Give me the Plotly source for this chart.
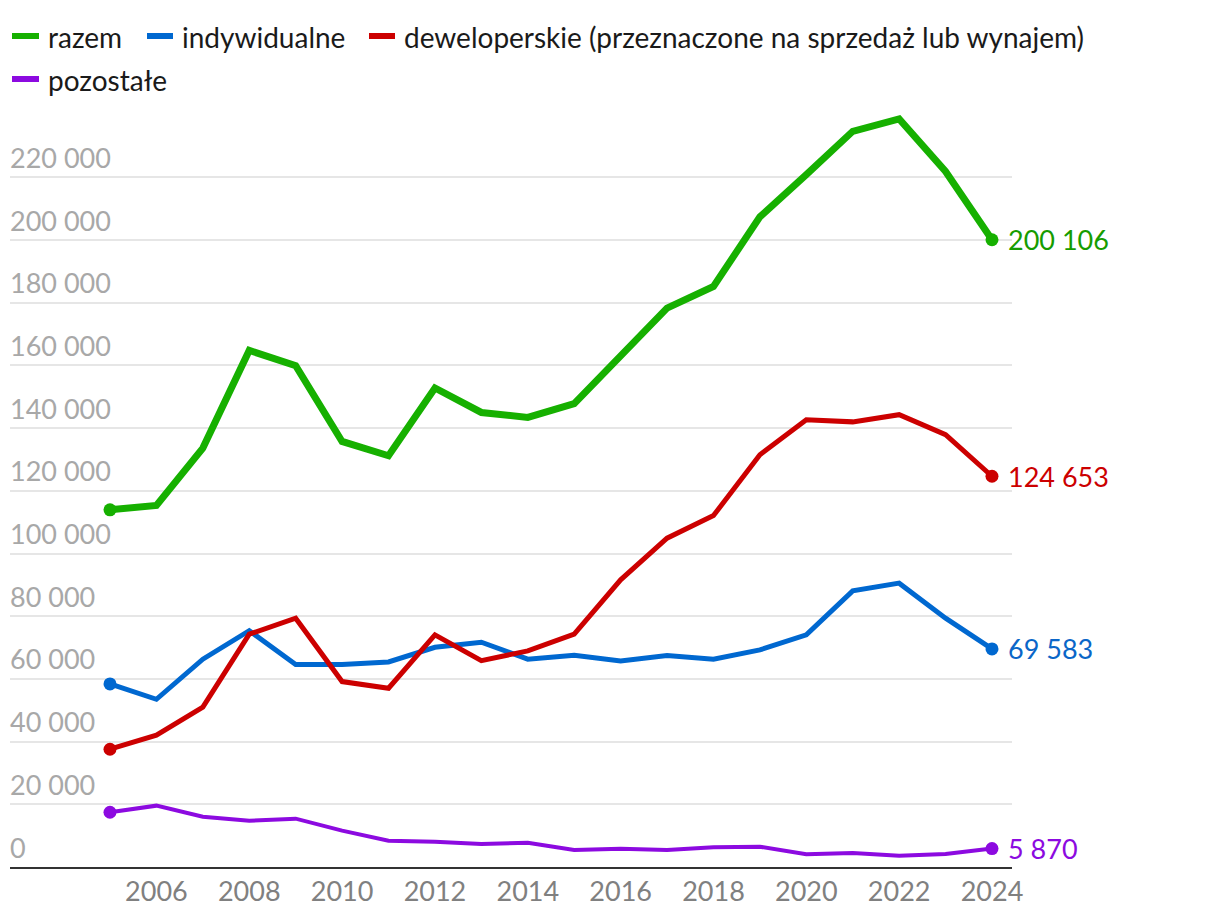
import plotly.graph_objects as go

years = list(range(2005, 2025))
razem = [113950, 115330, 133640, 164800, 159900, 135750, 131200, 152800, 145000, 143400,
         147800, 163100, 178300, 185200, 207400, 220900, 234700, 238650, 221900, 200106]
indywidualne = [58400, 53500, 66300, 75400, 64600, 64600, 65400, 70100, 71700, 66300,
                67570, 65750, 67450, 66300, 69270, 74050, 88100, 90550, 79380, 69583]
deweloperskie = [37570, 42040, 51000, 74270, 79380, 59150, 57030, 74050, 65850, 68950,
                 74270, 91600, 104900, 112100, 131500, 142700, 142000, 144300, 137900, 124653]
pozostale = [17460, 19570, 16060, 14780, 15420, 11590, 8400, 8080, 7340, 7760,
             5430, 5840, 5430, 6290, 6480, 4050, 4470, 3610, 4150, 5870]

series_names = ["razem", "indywidualne",
                "deweloperskie (przeznaczone na sprzedaż lub wynajem)", "pozostałe"]
series_values = [razem, indywidualne, deweloperskie, pozostale]
line_colors = ["#16b000", "#0068d0", "#cc0000", "#8c0ae0"]
label_colors = ["#169c00", "#0a66c8", "#cc0000", "#8c0ae0"]
line_widths = [7, 5, 5, 4]

y_ticks = list(range(0, 240000, 20000))
x_ticks = list(range(2006, 2025, 2))

OFF = 8  # page body margin
W, H = 1220, 924
# target page-pixel plot area: x 10..1012, y 99..867
PL, PR, PT, PB = 10, 1012, 99, 867
ML, MT = PL - OFF, PT - OFF
MR = W - (PR - OFF)
MB = H - (PB - OFF)
PW, PH = PR - PL, PB - PT

# legend layout (page pixels: swatch x0, swatch x1, text x, row centre y)
legend_pos = [(10, 41, 48, 36), (145, 175, 182, 36), (367, 397, 404, 36), (10, 41, 48, 79)]


def px_x(px):
    return (px - PL) / PW


def px_y(py):
    return (PB - py) / PH


def fmt(v):
    return f"{v:,}".replace(",", " ")


fig = go.Figure()
for name, vals, col, w in zip(series_names, series_values, line_colors, line_widths):
    fig.add_trace(go.Scatter(x=years, y=vals, mode="lines", name=name,
                             line=dict(color=col, width=w, shape="linear"),
                             hoverinfo="skip", showlegend=False))
for name, vals, col in zip(series_names, series_values, line_colors):
    fig.add_trace(go.Scatter(x=[years[0], years[-1]], y=[vals[0], vals[-1]], mode="markers",
                             marker=dict(color=col, size=13), showlegend=False,
                             cliponaxis=False, hoverinfo="skip"))

annotations = []
shapes = []
for t in y_ticks:
    annotations.append(dict(x=0, xref="paper", y=t, yref="y", text=fmt(t), showarrow=False,
                            xanchor="left", yanchor="middle", yshift=20, xshift=-2,
                            font=dict(family="Lato", size=27, color="#a8a8a8")))
for vals, col in zip(series_values, label_colors):
    annotations.append(dict(x=years[-1], xref="x", y=vals[-1], yref="y", text=fmt(vals[-1]),
                            showarrow=False, xanchor="left", yanchor="middle", xshift=14,
                            font=dict(family="Lato", size=27, color=col)))
for name, col, (sx0, sx1, tx, ly) in zip(series_names, line_colors, legend_pos):
    shapes.append(dict(type="line", xref="paper", yref="paper",
                       x0=px_x(sx0 + 2), x1=px_x(sx1 - 2), y0=px_y(ly), y1=px_y(ly),
                       line=dict(color=col, width=6)))
    annotations.append(dict(x=px_x(tx - 2), xref="paper", y=px_y(ly + 1), yref="paper",
                            text=name, showarrow=False, xanchor="left", yanchor="middle",
                            font=dict(family="Lato", size=28, color="#1a1a1a")))

fig.update_layout(
    width=W, height=H,
    margin=dict(l=ML, r=MR, t=MT, b=MB),
    paper_bgcolor="white", plot_bgcolor="white",
    font=dict(family="Lato", size=26, color="#222222"),
    showlegend=False,
    xaxis=dict(range=[2002.846, 2024.431], tickvals=x_ticks, ticktext=[str(v) for v in x_ticks],
               showgrid=False, zeroline=False, showline=True, linecolor="#333333", linewidth=2,
               ticks="", automargin=False,
               tickfont=dict(family="Lato", size=27, color="#808080")),
    yaxis=dict(range=[0, 245000], tickvals=y_ticks, showticklabels=False, showgrid=True,
               gridcolor="#e6e6e6", gridwidth=2, zeroline=False, showline=False, ticks="",
               automargin=False),
    annotations=annotations,
    shapes=shapes,
)

fig.write_html("out.html")
